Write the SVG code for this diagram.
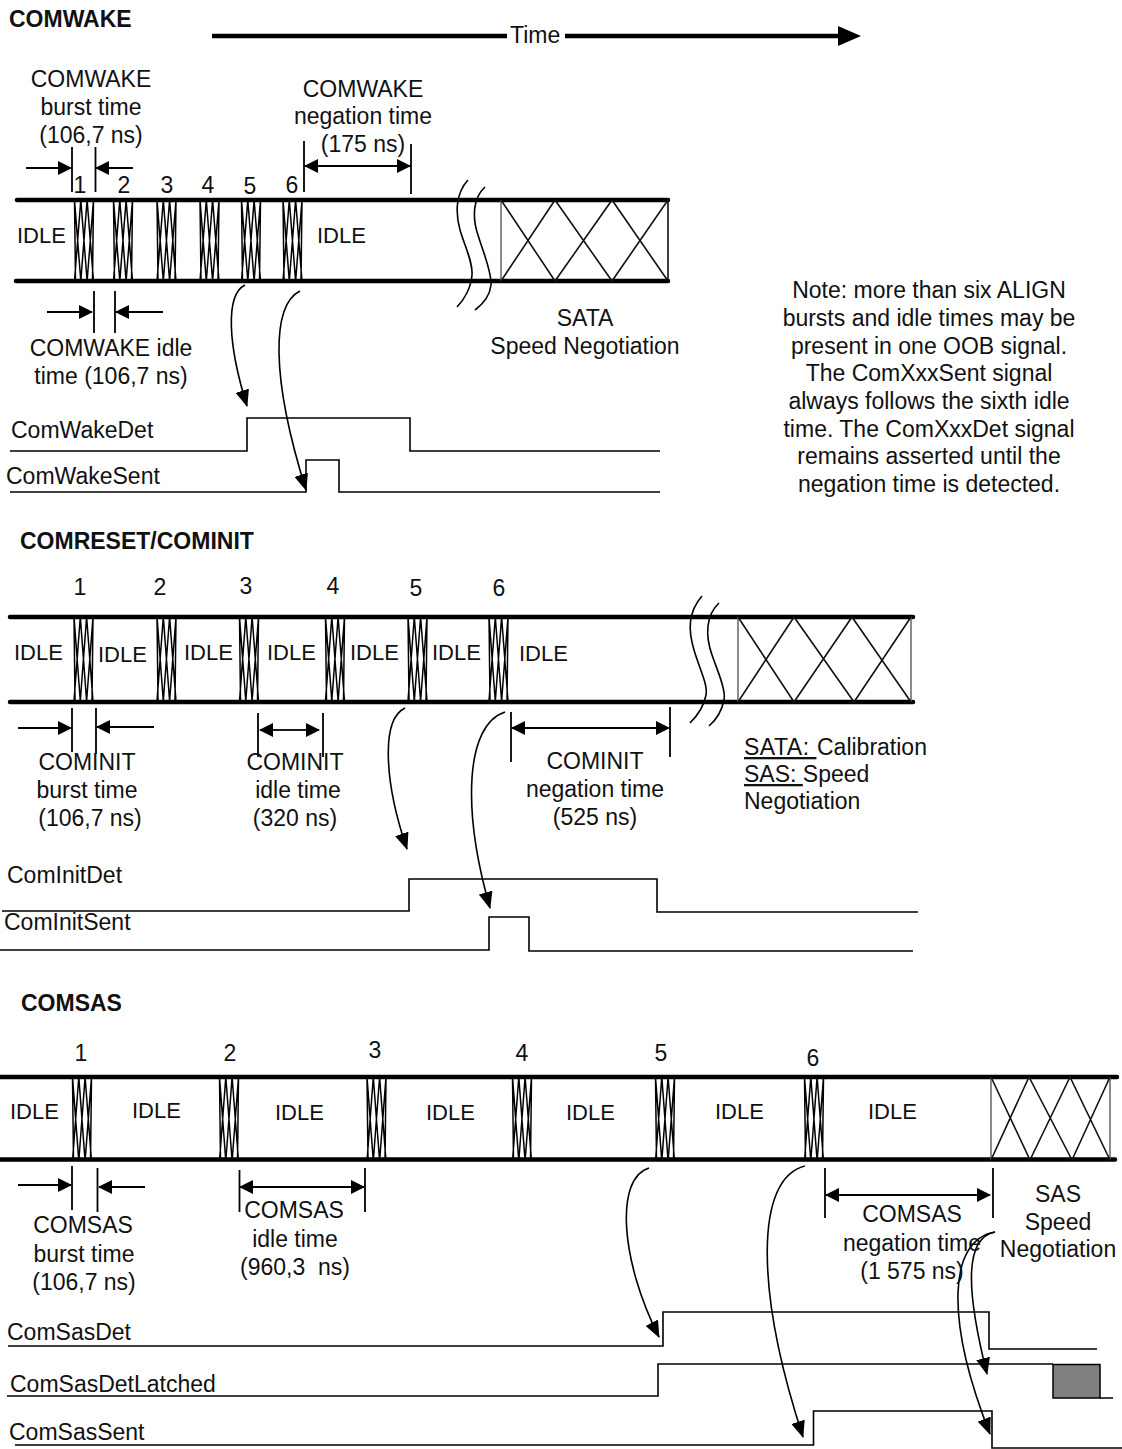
<svg xmlns="http://www.w3.org/2000/svg" width="1122" height="1449" viewBox="0 0 1122 1449">
<style>
text{font-family:"Liberation Sans",Arial,sans-serif;font-size:23px;fill:#111;white-space:pre}
.m{text-anchor:middle}
.i{font-size:22px}
.h{font-weight:bold}
.bus{stroke:#000;stroke-width:4.500;fill:none;stroke-linecap:round}
.thin{stroke:#000;stroke-width:1.800;fill:none}
.wave{stroke:#000;stroke-width:1.600;fill:none}
.xx{stroke:#111;stroke-width:1.600;fill:none}
.gv{stroke:#666;stroke-width:1.500;fill:none}
.bb{stroke:#000;stroke-width:1.500;fill:none}
.sig{stroke:#000;stroke-width:1.600;fill:none}
.curve{stroke:#000;stroke-width:1.600;fill:none}
</style>
<defs>
<marker id="ah" markerWidth="14" markerHeight="14" refX="13" refY="7" orient="auto" markerUnits="userSpaceOnUse"><path d="M0 0L14 7L0 14z" fill="#000"/></marker>
<marker id="as" markerWidth="17" markerHeight="14" refX="16" refY="7" orient="auto" markerUnits="userSpaceOnUse"><path d="M0 0L17 7L0 14z" fill="#000"/></marker>
<g id="b81"><path class="bb" d="M0 0L1 81M19 0L18 81M0 0L6.300 81M6.300 0L0 81M6.300 0L12.600 81M12.600 0L6.300 81M12.600 0L19 81M19 0L12.600 81"/></g>
<g id="b84"><path class="bb" d="M0 0L1 84M19 0L18 84M0 0L6.300 84M6.300 0L0 84M6.300 0L12.600 84M12.600 0L6.300 84M12.600 0L19 84M19 0L12.600 84"/></g>
</defs>

<g id="connectors">
<path class="curve" marker-end="url(#as)" d="M245 285C225 295 228 345 247 406"/>
<path class="curve" marker-end="url(#as)" d="M300 291C272 305 270 375 306 490"/>
<path class="curve" marker-end="url(#as)" d="M405 708C380 720 385 785 407 849"/>
<path class="curve" marker-end="url(#as)" d="M505 712C465 725 462 810 490 908"/>
<path class="curve" marker-end="url(#as)" d="M649 1168C615 1178 620 1260 659 1337"/>
<path class="curve" marker-end="url(#as)" d="M805 1166C755 1178 755 1290 803 1437"/>
<path class="curve" marker-end="url(#as)" d="M995 1232C964 1238 966 1290 987 1374"/>
<path class="curve" marker-end="url(#as)" d="M995 1232C948 1240 945 1320 990 1434"/>
</g>

<g id="time-axis">
<path d="M212 36H507M565 36H842" stroke="#000" stroke-width="4.500" fill="none"/>
<path d="M838 26L861 36L838 46z" fill="#000"/>
<text x="510" y="43">Time</text>
</g>

<g id="comwake">
<text class="h" x="9" y="27">COMWAKE</text>
<text class="m" x="91" y="87">COMWAKE</text><text class="m" x="91" y="115">burst time</text><text class="m" x="91" y="143">(106,7 ns)</text>
<text class="m" x="363" y="97">COMWAKE</text><text class="m" x="363" y="124">negation time</text><text class="m" x="363" y="152">(175 ns)</text>
<path class="thin" d="M72 147V192M95.500 147V192M304 141V192M411 144V194M94 291V333M115 291V333"/>
<path class="thin" marker-end="url(#ah)" d="M26 168H71"/>
<path class="thin" marker-end="url(#ah)" d="M133 168H96"/>
<path class="thin" marker-end="url(#ah)" d="M350 166H305"/>
<path class="thin" marker-end="url(#ah)" d="M350 166H410"/>
<path class="thin" marker-end="url(#ah)" d="M47 312H92"/>
<path class="thin" marker-end="url(#ah)" d="M163 312H116"/>
<text class="m" x="80" y="193">1</text><text class="m" x="124" y="193">2</text><text class="m" x="167" y="193">3</text><text class="m" x="208" y="193">4</text><text class="m" x="250" y="194">5</text><text class="m" x="292" y="193">6</text>
<path class="bus" d="M17 200H668M16 281H668"/>
<use href="#b81" x="74.500" y="200"/><use href="#b81" x="113.500" y="200"/><use href="#b81" x="157" y="200"/><use href="#b81" x="200" y="200"/><use href="#b81" x="241.500" y="200"/><use href="#b81" x="283" y="200"/>
<text class="i" x="17" y="243">IDLE</text><text class="i" x="317" y="243">IDLE</text>
<path class="gv" d="M501 200V281"/>
<path class="xx" d="M501 200L555 281L612 200L668 281M501 281L555 200L612 281L668 200M668 200V281"/>
<path class="wave" d="M468 180C456 193 455 212 460 230C465 247 473 262 472 275C471 288 464 300 457 307M485 187C473 198 472 217 478 235C483 252 492 272 491 285C490 295 483 304 475 310"/>
<text class="m" x="585" y="326">SATA</text><text class="m" x="585" y="354">Speed Negotiation</text>
<text class="m" x="111" y="356">COMWAKE idle</text><text class="m" x="111" y="384">time (106,7 ns)</text>
<text x="11" y="438">ComWakeDet</text><text x="6" y="484">ComWakeSent</text>
<path class="sig" d="M10 451H247V418H410V451H660M10 492H306V460H339V492H660"/>
</g>

<g id="note">
<text class="m" x="929" y="298">Note: more than six ALIGN</text>
<text class="m" x="929" y="326">bursts and idle times may be</text>
<text class="m" x="929" y="354">present in one OOB signal.</text>
<text class="m" x="929" y="381">The ComXxxSent signal</text>
<text class="m" x="929" y="409">always follows the sixth idle</text>
<text class="m" x="929" y="437">time. The ComXxxDet signal</text>
<text class="m" x="929" y="464">remains asserted until the</text>
<text class="m" x="929" y="492">negation time is detected.</text>
</g>

<g id="comreset">
<text class="h" x="20" y="549">COMRESET/COMINIT</text>
<text class="m" x="80" y="595">1</text><text class="m" x="160" y="595">2</text><text class="m" x="246" y="594">3</text><text class="m" x="333" y="594">4</text><text class="m" x="416" y="596">5</text><text class="m" x="499" y="596">6</text>
<path class="bus" d="M10 617H913M10 702H913"/>
<use href="#b84" x="74" y="617"/><use href="#b84" x="157" y="617"/><use href="#b84" x="239.500" y="617"/><use href="#b84" x="325.500" y="617"/><use href="#b84" x="408" y="617"/><use href="#b84" x="489" y="617"/>
<text class="i" x="14" y="660">IDLE</text><text class="i" x="98" y="662">IDLE</text><text class="i" x="184" y="660">IDLE</text><text class="i" x="267" y="660">IDLE</text><text class="i" x="350" y="660">IDLE</text><text class="i" x="432" y="660">IDLE</text><text class="i" x="519" y="661">IDLE</text>
<path class="gv" d="M738 617V702M911 617V702"/>
<path class="xx" d="M738 702L794 617L854 702M854 702L911 617M738 617L794 702L852 617L911 702"/>
<path class="wave" d="M702 596C688 612 688 630 694 650C700 670 708 685 706 695C704 706 697 716 690 723M719 603C706 615 705 635 712 655C718 672 726 690 724 700C722 710 716 720 709 726"/>
<path class="thin" d="M72 708V752M96 708V754M258 713V757M323 713V757M511 712V762M670 707V757"/>
<path class="thin" marker-end="url(#ah)" d="M18 728H71"/>
<path class="thin" marker-end="url(#ah)" d="M154 727H97"/>
<path class="thin" marker-end="url(#ah)" d="M290 730H260"/>
<path class="thin" marker-end="url(#ah)" d="M290 730H319"/>
<path class="thin" marker-end="url(#ah)" d="M590 728H512"/>
<path class="thin" marker-end="url(#ah)" d="M590 728H669"/>
<text class="m" x="87" y="770">COMINIT</text><text class="m" x="87" y="798">burst time</text><text class="m" x="90" y="826">(106,7 ns)</text>
<text class="m" x="295" y="770">COMINIT</text><text class="m" x="298" y="798">idle time</text><text class="m" x="295" y="826">(320 ns)</text>
<text class="m" x="595" y="769">COMINIT</text><text class="m" x="595" y="797">negation time</text><text class="m" x="595" y="825">(525 ns)</text>
<text x="744" y="755"><tspan text-decoration="underline" letter-spacing=".5">SATA: </tspan><tspan x="817">Calibration</tspan></text>
<text x="744" y="782"><tspan text-decoration="underline">SAS: </tspan>Speed</text>
<text x="744" y="809">Negotiation</text>
<text x="7" y="883">ComInitDet</text><text x="4" y="930">ComInitSent</text>
<path class="sig" d="M2 911H409V879H657V912H918M0 950H489V917H529V951H913"/>
</g>

<g id="comsas">
<text class="h" x="21" y="1011">COMSAS</text>
<text class="m" x="81" y="1061">1</text><text class="m" x="230" y="1061">2</text><text class="m" x="375" y="1058">3</text><text class="m" x="522" y="1061">4</text><text class="m" x="661" y="1061">5</text><text class="m" x="813" y="1066">6</text>
<path class="bus" d="M0 1077H1117M0 1159.500H1115"/>
<use href="#b84" x="72.500" y="1077"/><use href="#b84" x="219.500" y="1077"/><use href="#b84" x="367" y="1077"/><use href="#b84" x="512.500" y="1077"/><use href="#b84" x="655.500" y="1077"/><use href="#b84" x="804.500" y="1077"/>
<text class="i" x="10" y="1119">IDLE</text><text class="i" x="132" y="1118">IDLE</text><text class="i" x="275" y="1120">IDLE</text><text class="i" x="426" y="1120">IDLE</text><text class="i" x="566" y="1120">IDLE</text><text class="i" x="715" y="1119">IDLE</text><text class="i" x="868" y="1119">IDLE</text>
<path class="gv" d="M991 1077V1160M1110 1077V1160"/>
<path class="xx" d="M991 1160L1029 1077L1072 1160M1030 1160L1070 1077L1110 1160M991 1077L1030 1160M1072 1160L1110 1077"/>
<path class="thin" d="M72 1166V1210M97.500 1168V1212M239.500 1170V1212M365 1168V1212M825 1168V1218M993 1168V1218"/>
<path class="thin" marker-end="url(#ah)" d="M18 1185H71"/>
<path class="thin" marker-end="url(#ah)" d="M145 1187H99"/>
<path class="thin" marker-end="url(#ah)" d="M300 1187H240"/>
<path class="thin" marker-end="url(#ah)" d="M300 1187H364"/>
<path class="thin" marker-end="url(#ah)" d="M910 1195H826"/>
<path class="thin" marker-end="url(#ah)" d="M910 1195H990"/>
<text class="m" x="83" y="1233">COMSAS</text><text class="m" x="84" y="1262">burst time</text><text class="m" x="84" y="1290">(106,7 ns)</text>
<text class="m" x="294" y="1218">COMSAS</text><text class="m" x="295" y="1247">idle time</text><text class="m" x="295" y="1275">(960,3  ns)</text>
<text class="m" x="912" y="1222">COMSAS</text><text class="m" x="912" y="1251">negation time</text><text class="m" x="912" y="1279">(1 575 ns)</text>
<text class="m" x="1058" y="1202">SAS</text><text class="m" x="1058" y="1230">Speed</text><text class="m" x="1058" y="1257">Negotiation</text>
<text x="7" y="1340">ComSasDet</text><text x="10" y="1392">ComSasDetLatched</text><text x="9" y="1440">ComSasSent</text>
<path class="sig" d="M8 1346H663V1312H989V1349H1097M7 1396H658V1364H1053M1100 1398H1113M15 1445H813.500V1411H992V1448H1122"/>
<rect x="1053" y="1364.500" width="47" height="33.500" fill="#808080" stroke="#000" stroke-width="1.500"/>
</g>
</svg>
